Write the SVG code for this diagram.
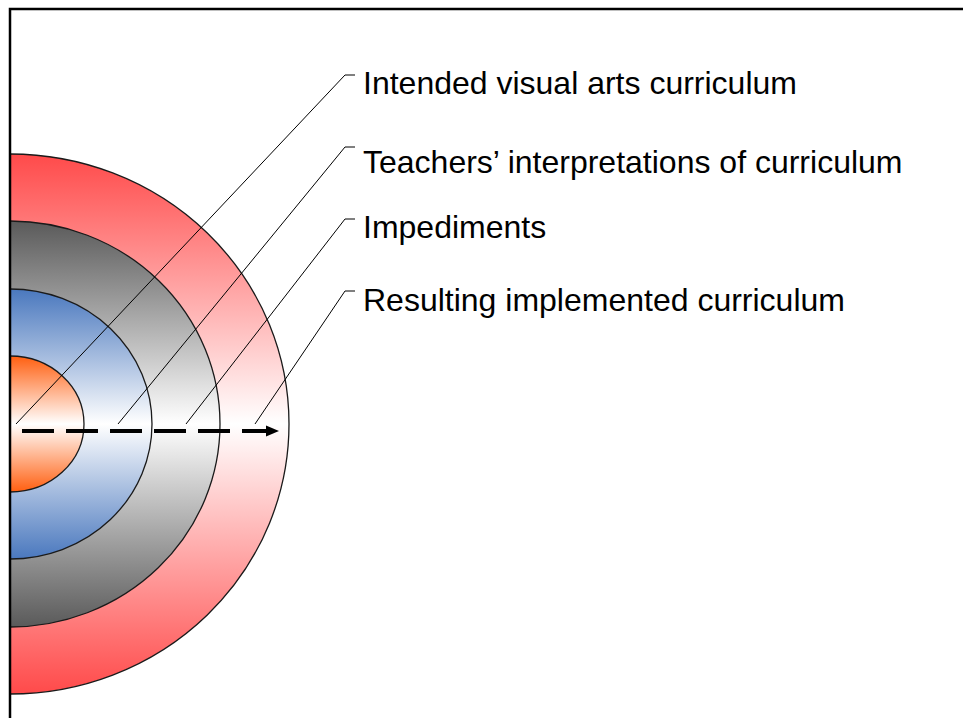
<svg xmlns="http://www.w3.org/2000/svg" width="963" height="718" viewBox="0 0 963 718">
<defs>
<linearGradient id="gRed" x1="0" y1="0" x2="0" y2="1"><stop offset="0" stop-color="#FF4A4A"/><stop offset="0.5" stop-color="#FFFFFF"/><stop offset="1" stop-color="#FF4A4A"/></linearGradient>
<linearGradient id="gGray" x1="0" y1="0" x2="0" y2="1"><stop offset="0" stop-color="#5A5A5A"/><stop offset="0.5" stop-color="#FFFFFF"/><stop offset="1" stop-color="#5A5A5A"/></linearGradient>
<linearGradient id="gBlue" x1="0" y1="0" x2="0" y2="1"><stop offset="0" stop-color="#4A78BE"/><stop offset="0.5" stop-color="#FFFFFF"/><stop offset="1" stop-color="#4A78BE"/></linearGradient>
<linearGradient id="gOrange" x1="0" y1="0" x2="0" y2="1"><stop offset="0" stop-color="#FF5F10"/><stop offset="0.5" stop-color="#FFFFFF"/><stop offset="1" stop-color="#FF5F10"/></linearGradient>
<clipPath id="frameClip"><rect x="10" y="9" width="960" height="720"/></clipPath>
<marker id="arrow" markerWidth="13" markerHeight="12" refX="13" refY="6" orient="auto" markerUnits="userSpaceOnUse"><path d="M0,0.5 L13,6 L0,11.5 Z" fill="#000"/></marker>
</defs>
<style>
.ring{stroke:#1a1a1a;stroke-width:1.3}
.leader{fill:none;stroke:#000;stroke-width:1}
.lbl{font-family:"Liberation Sans",Arial,sans-serif;font-size:32px;fill:#000}
</style>
<rect width="963" height="718" fill="#fff"/>
<g clip-path="url(#frameClip)">
<g id="ring-outer"><ellipse class="ring" cx="10" cy="424" rx="279" ry="270" fill="url(#gRed)"/></g>
<g id="ring-gray"><ellipse class="ring" cx="10" cy="424" rx="210" ry="203" fill="url(#gGray)"/></g>
<g id="ring-blue"><ellipse class="ring" cx="10" cy="424" rx="142" ry="135" fill="url(#gBlue)"/></g>
<g id="ring-orange"><ellipse class="ring" cx="10" cy="424" rx="74" ry="68" fill="url(#gOrange)"/></g>
</g>
<rect x="10" y="9" width="970" height="730" fill="none" stroke="#000" stroke-width="2.5"/>
<g id="connectors">
<polyline class="leader" points="16,424 345,75 355,75"/>
<polyline class="leader" points="118,424 345,147 355,147"/>
<polyline class="leader" points="186,424 345,219 355,219"/>
<polyline class="leader" points="255,424 345,291 355,291"/>
<line x1="22" y1="431" x2="279" y2="431" stroke="#000" stroke-width="4" stroke-dasharray="32 12" marker-end="url(#arrow)"/>
</g>
<g id="label-intended"><text class="lbl" x="363" y="94">Intended visual arts curriculum</text></g>
<g id="label-teachers"><text class="lbl" x="363" y="173">Teachers’ interpretations of curriculum</text></g>
<g id="label-impediments"><text class="lbl" x="363" y="238">Impediments</text></g>
<g id="label-resulting"><text class="lbl" x="363" y="311">Resulting implemented curriculum</text></g>
</svg>
